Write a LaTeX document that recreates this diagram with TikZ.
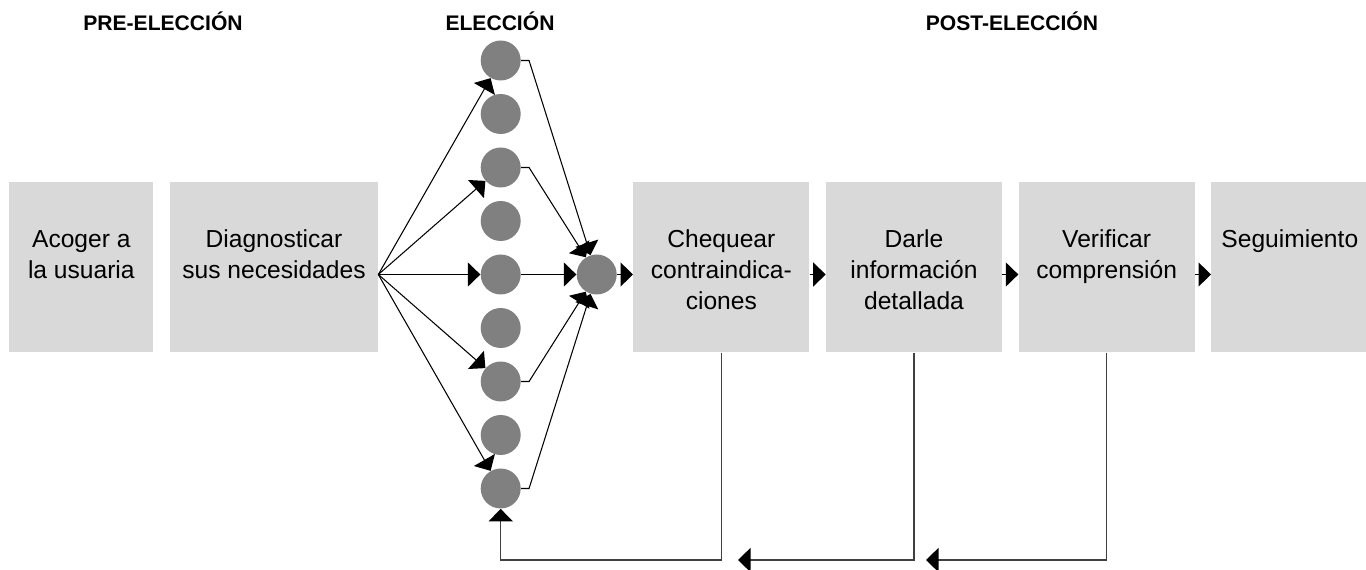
\documentclass[tikz,border=0pt]{standalone}
\usepackage{fontspec}
\setmainfont{Liberation Sans}
\usetikzlibrary{arrows.meta, positioning}
\definecolor{cajagris}{HTML}{D9D9D9}
\definecolor{bolagris}{HTML}{808080}
\newcommand{\etapa}[2]{\parbox[c][3.40cm][t]{#1}{\centering\rule{0pt}{1.30cm}#2}}

\begin{document}
\begin{tikzpicture}[x=0.02cm, y=-0.02cm,
    caja/.style={fill=cajagris, inner sep=0pt, font=\fontsize{14}{17.6}\selectfont},
    bola/.style={circle, fill=bolagris, minimum size=0.8cm, inner sep=0pt},
    fase/.style={font=\fontsize{12}{14}\selectfont\bfseries},
    arr/.style={-{Triangle[length=0.25cm, width=0.48cm]}, line width=0.6pt},
    ret/.style={-{Triangle[length=0.25cm, width=0.48cm, color=black]}, line width=0.8pt, draw=black!75}
  ]
  \useasboundingbox (0,0) rectangle (1366,570);

  % fases
  \node[fase] (pre) at (163,21) {PRE-ELECCIÓN};
  \node[fase] (elec) at (500,21) {ELECCIÓN};
  \node[fase] (post) at (1012,21) {POST-ELECCIÓN};

  % etapas
  \node[caja, anchor=north west] (acoger) at (9,182) {\etapa{2.88cm}{Acoger a\\la usuaria}};
  \node[caja, right=0.32cm of acoger] (diag) {\etapa{4.16cm}{Diagnosticar\\sus necesidades}};
  \node[caja, anchor=north west] (cheq) at (633,182) {\etapa{3.52cm}{Chequear\\contraindica-\\ciones}};
  \node[caja, right=0.32cm of cheq] (darle) {\etapa{3.52cm}{Darle\\información\\detallada}};
  \node[caja, right=0.32cm of darle] (verif) {\etapa{3.52cm}{Verificar\\comprensión}};
  \node[caja, right=0.32cm of verif] (seg) {\etapa{3.14cm}{Seguimiento}};

  % opciones
  \foreach \i in {1,...,9}
    \node[bola] (c\i) at (500.7, {60.5+53.5*(\i-1)}) {};
  \node[bola] (junta) at (596.7,274.5) {};

  \foreach \i in {1,3,5,7,9}
    \draw[arr] (diag.east |- junta) -- (c\i);
  \foreach \i in {1,3,7,9}
    \draw[arr] (c\i.east) -- ++(8,0) -- (junta);
  \draw[arr] (c5) -- (junta);

  \draw[arr] (junta) -- (cheq.west |- junta);
  \draw[arr] (cheq.east |- junta) -- (darle.west |- junta);
  \draw[arr] (darle.east |- junta) -- (verif.west |- junta);
  \draw[arr] (verif.east |- junta) -- (seg.west |- junta);

  % retorno
  \coordinate (fondo) at (0,560);
  \coordinate (ret2) at (738,560);
  \coordinate (ret3) at (926,560);
  \draw[ret] (cheq.south) -- (cheq.south |- fondo) -| (c9);
  \draw[ret] (darle.south) |- (ret2);
  \draw[ret] (verif.south) |- (ret3);
\end{tikzpicture}
\end{document}
